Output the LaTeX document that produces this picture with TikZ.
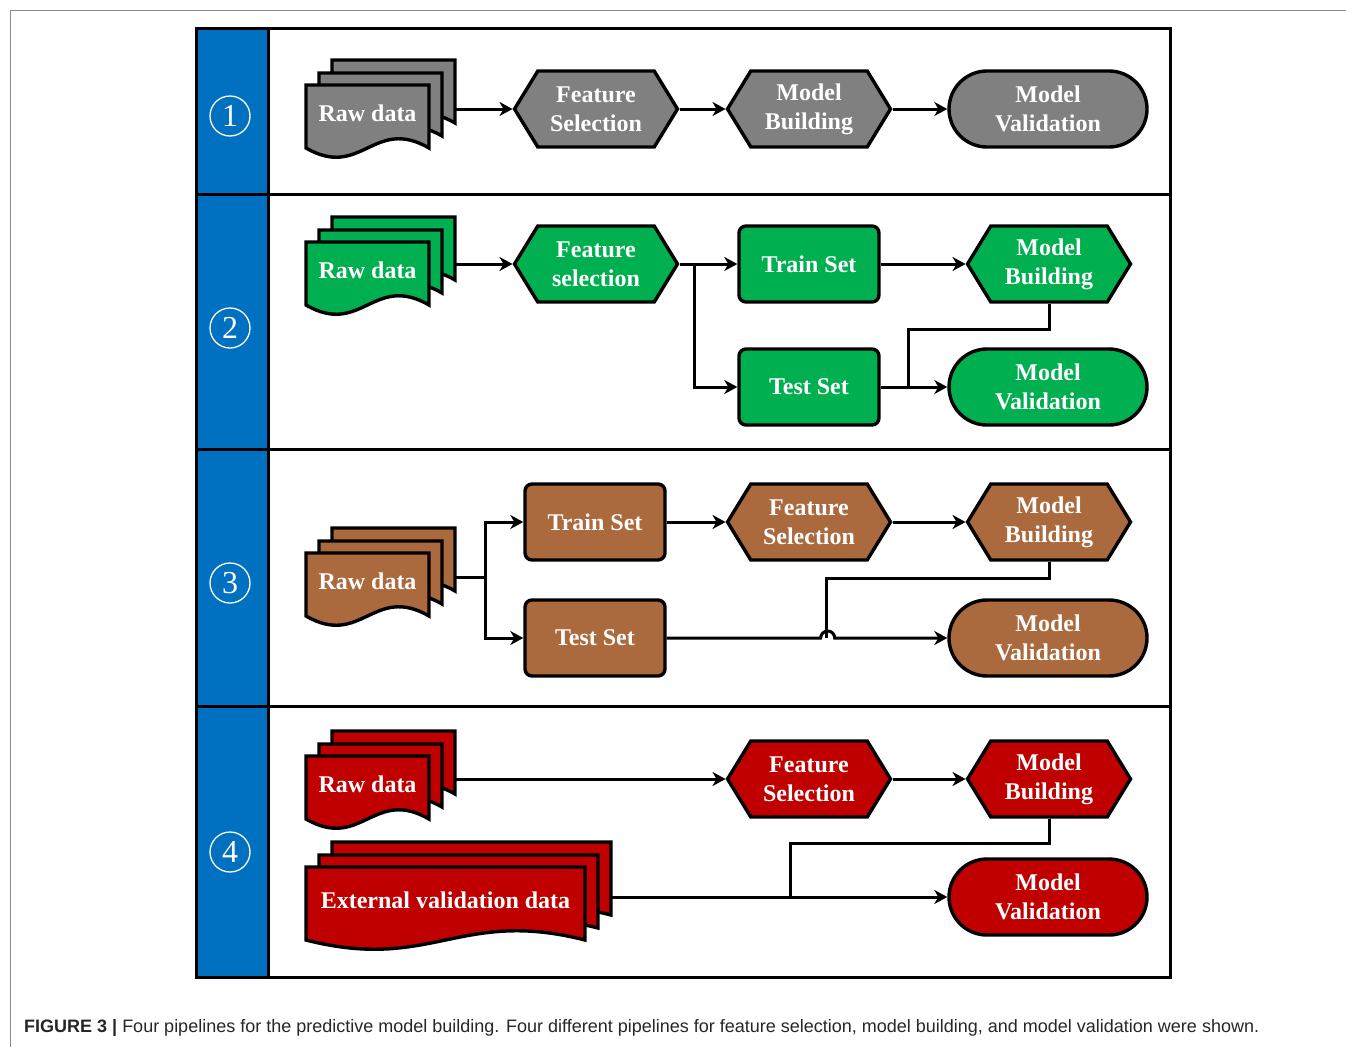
\documentclass[tikz,border=0pt]{standalone}
\usepackage{fontspec}
\setmainfont{Liberation Serif}
\newfontfamily\capfont{Liberation Sans}
\usetikzlibrary{arrows.meta,shapes.symbols,shapes.misc}

\definecolor{rowblue}{HTML}{0070C0}
\definecolor{pgray}{HTML}{808080}
\definecolor{pgreen}{HTML}{00B050}
\definecolor{pbrown}{HTML}{AA6A3E}
\definecolor{pred}{HTML}{C00000}

\tikzset{
  box/.style={draw=black, line width=3.4pt, text=white, align=center, inner sep=0pt,
    font=\fontsize{24}{29}\selectfont\bfseries},
  hexa/.style={box, signal, signal to=east and west, signal pointer angle=117,
    minimum width=163, minimum height=76},
  stadium/.style={box, rounded rectangle, minimum width=198, minimum height=76},
  setbox/.style={box, rectangle, rounded corners=7pt, minimum width=140, minimum height=76},
  doctext/.style={text=white, inner sep=0pt, font=\fontsize{24}{29}\selectfont\bfseries},
  num/.style={circle, draw=white, line width=1.3pt, text=white, inner sep=0pt,
    minimum size=40, font=\fontsize{32}{32}\selectfont},
  line/.style={line width=3pt},
  arr/.style={line width=3pt, -{Stealth[length=13pt,width=14pt,inset=4pt]}}
}

% one page of a document stack: x y w h colour
\newcommand\docpage[5]{%
  \draw[line width=3.4pt, fill=#5] (#1,#2) -- (#1+#3,#2) -- (#1+#3,#2+#4)
    .. controls (#1+0.55*#3,#2+#4-32) and (#1+0.45*#3,#2+#4+32) .. (#1,#2+#4) -- cycle;}
% three pages and the label: name x y w h colour text
\newcommand\docstack[7]{%
  \docpage{#2+26}{#3-25}{#4}{#5}{#6}
  \docpage{#2+13}{#3-12}{#4}{#5}{#6}
  \docpage{#2}{#3}{#4}{#5}{#6}
  \node[doctext] (#1) at (#2+#4/2,#3+#5/2-3) {#7};
  \coordinate (#1-r) at (#2+26+#4,#3);}

\begin{document}
\begin{tikzpicture}[x=1pt,y=-1pt]
\useasboundingbox (0,0) rectangle (1346,1047);
\draw[black!45, line width=1pt] (10,1047) -- (10,10) -- (1346,10);

%Frame
\fill[rowblue] (196,28) rectangle (268,977);
\draw[line width=3pt] (196,28) rectangle (1170,977);
\draw[line width=3pt] (268,28) -- (268,977);
\foreach \yy in {194,449,706}
  \draw[line width=3pt] (196,\yy) -- (1170,\yy);

\node[num] (n1) at (230,116) {1};
\node[num] (n2) at (230,328) {2};
\node[num] (n3) at (230,583) {3};
\node[num] (n4) at (230,852) {4};

%Pipeline 1
\docstack{raw1}{306}{85}{123}{63}{pgray}{Raw data}
\node[hexa, fill=pgray] (fs1) at (596,109) {Feature\\Selection};
\node[hexa, fill=pgray] (mb1) at (809,109) {Model\\Building};
\node[stadium, fill=pgray] (mv1) at (1048,109) {Model\\Validation};
\draw[arr] (raw1-r |- fs1.west) -- (fs1.west);
\draw[arr] (fs1.east) -- (mb1.west);
\draw[arr] (mb1.east) -- (mv1.west);

%Pipeline 2
\docstack{raw2}{306}{242}{123}{63}{pgreen}{Raw data}
\node[hexa, fill=pgreen] (fs2) at (596,264) {Feature\\selection};
\node[setbox, fill=pgreen] (tr2) at (809,264) {Train Set};
\node[hexa, fill=pgreen] (mb2) at (1049,264) {Model\\Building};
\node[setbox, fill=pgreen] (te2) at (809,387) {Test Set};
\node[stadium, fill=pgreen] (mv2) at (1048,387) {Model\\Validation};
\coordinate (b2) at (694,264);
\coordinate (k2) at (908,329);
\draw[arr] (raw2-r |- fs2.west) -- (fs2.west);
\draw[arr] (fs2.east) -- (tr2.west);
\draw[arr] (b2) |- (te2.west);
\draw[arr] (tr2.east) -- (mb2.west);
\draw[line] (mb2.south) |- (k2) -- (k2 |- mv2.west);
\draw[arr] (te2.east) -- (mv2.west);

%Pipeline 3
\docstack{raw3}{306}{553}{123}{63}{pbrown}{Raw data}
\node[setbox, fill=pbrown] (tr3) at (595,522) {Train Set};
\node[hexa, fill=pbrown] (fs3) at (809,522) {Feature\\Selection};
\node[hexa, fill=pbrown] (mb3) at (1049,522) {Model\\Building};
\node[setbox, fill=pbrown] (te3) at (595,638) {Test Set};
\node[stadium, fill=pbrown] (mv3) at (1048,638) {Model\\Validation};
\coordinate (b3) at (485,577);
\coordinate (k3) at (826,578);
\draw[line] (raw3-r |- b3) -- (b3);
\draw[arr] (b3) |- (tr3.west);
\draw[arr] (b3) |- (te3.west);
\draw[arr] (tr3.east) -- (fs3.west);
\draw[arr] (fs3.east) -- (mb3.west);
\draw[line] (mb3.south) |- (k3) -- (k3 |- mv3.west);
\draw[arr] (te3.east) -- ++(154,0) arc[start angle=180, end angle=360, radius=7] -- (mv3.west);

%Pipeline 4
\docstack{raw4}{306}{756}{123}{63}{pred}{Raw data}
\docstack{ext}{306}{867}{279}{73}{pred}{External validation data}
\node[hexa, fill=pred] (fs4) at (809,779) {Feature\\Selection};
\node[hexa, fill=pred] (mb4) at (1049,779) {Model\\Building};
\node[stadium, fill=pred] (mv4) at (1048,897) {Model\\Validation};
\coordinate (k4) at (790,843);
\draw[arr] (raw4-r |- fs4.west) -- (fs4.west);
\draw[arr] (fs4.east) -- (mb4.west);
\draw[line] (mb4.south) |- (k4) -- (k4 |- mv4.west);
\draw[arr] (ext-r |- mv4.west) -- (mv4.west);

% Caption
\node[anchor=west, inner sep=0pt, text=black!85, font=\capfont\fontsize{18}{21}\selectfont] (cap) at (24,1028)
  {\textbf{FIGURE 3 |} Four pipelines for the predictive model building. Four different pipelines for feature selection, model building, and model validation were shown.};
\end{tikzpicture}
\end{document}
